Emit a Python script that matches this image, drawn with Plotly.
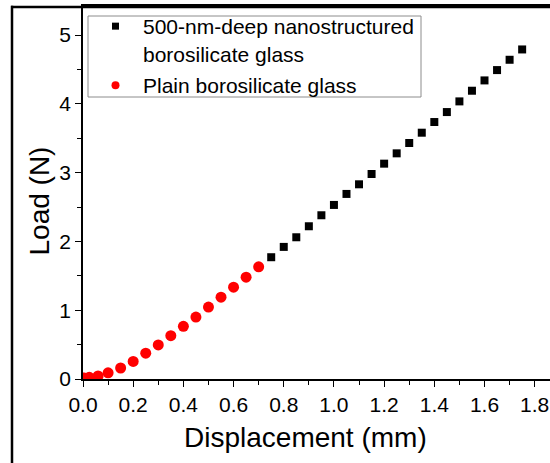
import plotly.graph_objects as go

# Data
nano_x = [0.75, 0.80, 0.85, 0.90, 0.95, 1.00, 1.05, 1.10, 1.15, 1.20, 1.25,
          1.30, 1.35, 1.40, 1.45, 1.50, 1.55, 1.60, 1.65, 1.70, 1.75]
nano_y = [1.77, 1.92, 2.06, 2.22, 2.38, 2.53, 2.69, 2.83, 2.98, 3.13, 3.28,
          3.43, 3.58, 3.735, 3.88, 4.035, 4.19, 4.34, 4.49, 4.64, 4.79]

plain_x = [0.005, 0.025, 0.06, 0.10, 0.15, 0.20, 0.25, 0.30, 0.35, 0.40,
           0.45, 0.50, 0.55, 0.60, 0.65, 0.70]
plain_y = [0.015, 0.025, 0.045, 0.09, 0.16, 0.255, 0.375, 0.495, 0.63, 0.765,
           0.90, 1.045, 1.19, 1.335, 1.48, 1.63]

nano_name = "500-nm-deep nanostructured<br>borosilicate glass"
plain_name = "Plain borosilicate glass"
x_title = "Displacement (mm)"
y_title = "Load (N)"
x_ticks = [0.0, 0.2, 0.4, 0.6, 0.8, 1.0, 1.2, 1.4, 1.6, 1.8]
y_ticks = [0, 1, 2, 3, 4, 5]

FONT = "Arial, Liberation Sans, sans-serif"

fig = go.Figure()
# data traces
fig.add_trace(go.Scatter(
    x=nano_x, y=nano_y, mode="markers", name=nano_name, showlegend=False,
    marker=dict(symbol="square", size=8, color="black"),
))
fig.add_trace(go.Scatter(
    x=plain_x, y=plain_y, mode="markers", name=plain_name, showlegend=False,
    marker=dict(symbol="circle", size=11, color="#ff0000"),
))
# legend entries (smaller legend symbols as in the reference)
fig.add_trace(go.Scatter(
    x=[None], y=[None], mode="markers", name=nano_name, legend="legend",
    marker=dict(symbol="square", size=7, color="black"),
))
fig.add_trace(go.Scatter(
    x=[None], y=[None], mode="markers", name=plain_name, legend="legend2",
    marker=dict(symbol="circle", size=8, color="#ff0000"),
))

L, R, T, B = 83, 0, 6, 84
W, H = 550, 463
pw = W - L - R
ph = H - T - B
Y0 = H - B  # pixel row of y = 0


def px(xp):
    return (xp - L) / pw


def py(yp):
    return (Y0 - yp) / ph


# y range so that 1 unit = 68.8 px, as in the reference
y_top = (Y0 - T) / 68.8

leg_common = dict(
    xanchor="left", yanchor="top",
    bgcolor="rgba(0,0,0,0)", borderwidth=0,
    font=dict(family=FONT, size=21, color="black"),
    valign="top", itemwidth=45, tracegroupgap=0,
)

fig.update_layout(
    width=W, height=H,
    margin=dict(l=L, r=R, t=T, b=B, pad=0),
    paper_bgcolor="white", plot_bgcolor="white",
    font=dict(family=FONT, color="black", size=21),
    showlegend=True,
    legend=dict(x=px(88), y=min(1.0, py(6)), **leg_common),
    legend2=dict(x=px(88), y=py(65), **leg_common),
    xaxis=dict(
        range=[0, 1.861], tickvals=x_ticks, ticktext=[f"{v:.1f}" for v in x_ticks],
        showgrid=False, zeroline=False, showline=True, linecolor="black", linewidth=1.5,
        mirror=True,
        ticks="outside", ticklen=6, tickwidth=1.3, tickcolor="black",
        tickfont=dict(size=21, family=FONT),
        minor=dict(dtick=0.1, tick0=0, ticks="outside", ticklen=4, tickwidth=1.2, tickcolor="black", showgrid=False),
    ),
    yaxis=dict(
        range=[0, y_top], tickvals=y_ticks, ticktext=[str(v) for v in y_ticks],
        showgrid=False, zeroline=False, showline=True, linecolor="black", linewidth=1.5,
        ticks="outside", ticklen=6, tickwidth=1.3, tickcolor="black",
        tickfont=dict(size=21, family=FONT),
        minor=dict(dtick=0.5, tick0=0, ticks="outside", ticklen=4, tickwidth=1.2, tickcolor="black", showgrid=False),
    ),
    shapes=[
        # outer frame (top and left edges)
        dict(type="line", xref="paper", yref="paper",
             x0=px(11), x1=px(560), y0=py(7), y1=py(7),
             line=dict(color="black", width=2.5), layer="above"),
        dict(type="line", xref="paper", yref="paper",
             x0=px(12), x1=px(12), y0=py(470), y1=py(5.8),
             line=dict(color="black", width=2.5), layer="above"),
        # legend box
        dict(type="rect", xref="paper", yref="paper",
             x0=px(88), x1=px(421), y0=py(97), y1=py(16),
             line=dict(color="#8c8c8c", width=1), fillcolor="white", layer="below"),
    ],
    annotations=[
        dict(text=x_title, xref="paper", yref="paper",
             x=px(305), y=py(438),
             xanchor="center", yanchor="middle", showarrow=False,
             font=dict(size=28, family=FONT, color="black")),
        dict(text=y_title, xref="paper", yref="paper",
             x=px(39), y=py(201.5), textangle=-90,
             xanchor="center", yanchor="middle", showarrow=False,
             font=dict(size=28, family=FONT, color="black")),
    ],
)

fig.write_html(
    "out.html",
    config={"displayModeBar": False},
    post_script="document.body.style.margin='0';document.body.style.overflow='hidden';",
)
